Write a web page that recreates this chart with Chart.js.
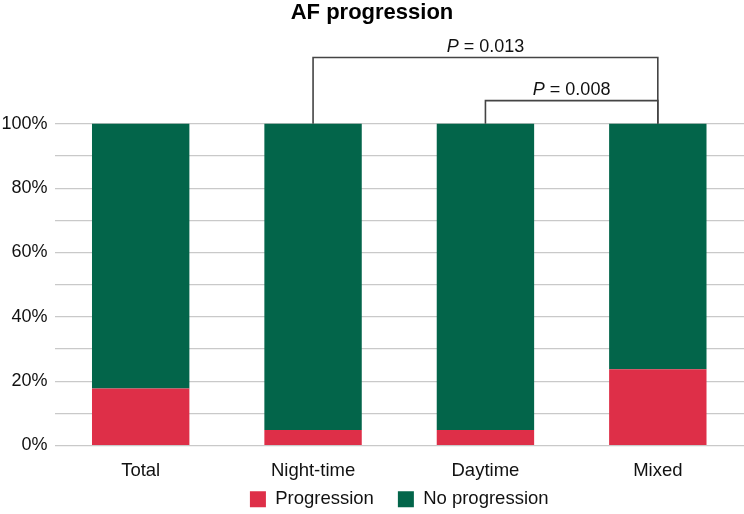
<!DOCTYPE html>
<html>
<head>
<meta charset="utf-8">
<script src="https://cdn.jsdelivr.net/npm/chart.js@4"></script>
<style>
  html, body { margin: 0; padding: 0; background: #fff; }
  #wrap { width: 744px; height: 514px; }
</style>
</head>
<body>
<div id="wrap"><canvas id="myChart"></canvas></div>
<script>
// data
const categories = ["Total", "Night-time", "Daytime", "Mixed"];
const progression = [17.7, 4.8, 4.8, 23.7];
const noProgression = [82.3, 95.2, 95.2, 76.3];
const yTicks = [0, 10, 20, 30, 40, 50, 60, 70, 80, 90, 100];

// significance brackets: [from category, to category], level in %, p value
const bracketPairs = [[1, 3], [2, 3]];
const bracketLevels = [120.6, 107.2];
const bracketP = ["0.013", "0.008"];

const FONT = "'Liberation Sans', Arial, Helvetica, sans-serif";

const bracketPlugin = {
  id: "pBrackets",
  afterDatasetsDraw: (chart) => {
    const { ctx, scales } = chart;
    const x = scales.x, y = scales.y;
    ctx.save();
    ctx.strokeStyle = "#444444";
    ctx.lineWidth = 1.6;
    bracketPairs.forEach((pair, i) => {
      const x1 = x.getPixelForValue(pair[0]);
      const x2 = x.getPixelForValue(pair[1]);
      const yb = y.getPixelForValue(bracketLevels[i]);
      const yTop = y.getPixelForValue(100);
      ctx.beginPath();
      ctx.moveTo(x1, yTop);
      ctx.lineTo(x1, yb);
      ctx.lineTo(x2, yb);
      ctx.lineTo(x2, yTop);
      ctx.stroke();

      // "P = 0.013" with italic P
      const italic = "italic 18px " + FONT;
      const plain = "18px " + FONT;
      ctx.font = italic;
      const wP = ctx.measureText("P").width;
      ctx.font = plain;
      const rest = " = " + bracketP[i];
      const wR = ctx.measureText(rest).width;
      const cx = (x1 + x2) / 2;
      const left = cx - (wP + wR) / 2;
      const ty = yb - 6;
      ctx.fillStyle = "#111111";
      ctx.textBaseline = "alphabetic";
      ctx.textAlign = "left";
      ctx.font = italic;
      ctx.fillText("P", left, ty);
      ctx.font = plain;
      ctx.fillText(rest, left + wP, ty);
    });
    ctx.restore();
  },
};

// center legend under the plot area and pull it up under the labels
const legendNudge = {
  id: "legendNudge",
  afterLayout: (chart) => {
    const lg = chart.legend, area = chart.chartArea;
    if (!lg) return;
    const dx = (area.left + area.right) / 2 - (lg.left + lg.right) / 2;
    lg.left += dx;
    lg.right += dx;
    lg.top -= 16;
  },
};

const ctx = document.getElementById("myChart").getContext("2d");
new Chart(ctx, {
  type: "bar",
  data: {
    labels: categories,
    datasets: [
      {
        label: "Progression",
        data: progression,
        backgroundColor: "#DE2F48",
        barPercentage: 0.565,
        categoryPercentage: 1,
      },
      {
        label: "No progression",
        data: noProgression,
        backgroundColor: "#03654A",
        barPercentage: 0.565,
        categoryPercentage: 1,
      },
    ],
  },
  plugins: [bracketPlugin, legendNudge],
  options: {
    responsive: true,
    maintainAspectRatio: false,
    animation: false,
    layout: { padding: { left: 0, right: 0, top: 0, bottom: 0 } },
    scales: {
      x: {
        stacked: true,
        afterFit: (axis) => {
          axis.height = 36.5;
        },
        grid: { display: false, drawTicks: false },
        border: { display: false },
        ticks: {
          color: "#111111",
          padding: 14,
          font: { family: FONT, size: 18.5 },
        },
      },
      y: {
        stacked: true,
        min: 0,
        max: 125,
        afterBuildTicks: (axis) => {
          axis.ticks = yTicks.map((v) => ({ value: v }));
        },
        afterFit: (axis) => {
          axis.width = 54.5;
        },
        grid: { color: "#c9c9c9", lineWidth: 1.2, drawTicks: false },
        border: { display: false },
        ticks: {
          color: "#111111",
          padding: 7,
          font: { family: FONT, size: 18 },
          callback: (v) => (v % 20 === 0 ? v + "%" : ""),
        },
      },
    },
    plugins: {
      title: {
        display: true,
        text: "AF progression",
        color: "#000000",
        font: { family: FONT, size: 22, weight: "bold" },
        padding: { top: 0, bottom: 17 },
      },
      legend: {
        position: "bottom",
        maxHeight: 32,
        labels: {
          color: "#111111",
          boxWidth: 16,
          boxHeight: 16,
          padding: 24,
          font: { family: FONT, size: 18.5 },
        },
      },
      tooltip: { enabled: false },
    },
  },
});
</script>
</body>
</html>
